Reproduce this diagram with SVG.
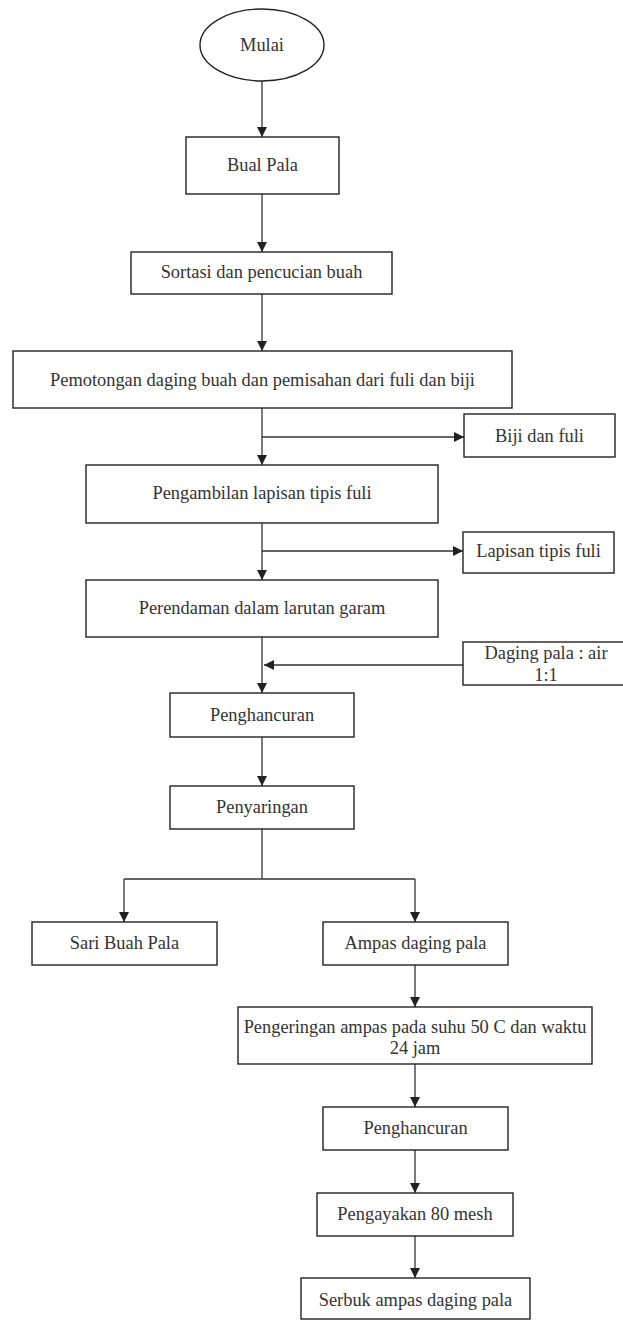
<svg xmlns="http://www.w3.org/2000/svg" width="623" height="1320" viewBox="0 0 623 1320">
<defs>
<marker id="arr" markerUnits="userSpaceOnUse" markerWidth="10" markerHeight="10" refX="10" refY="5" orient="auto">
<path d="M0,0 L10,5 L0,10 z" fill="#222"/>
</marker>
<style>
.box{fill:#fff;stroke:#222;stroke-width:1.4}
.t{font-family:'Liberation Serif','DejaVu Serif','Times New Roman',serif;font-size:18.4px;fill:#333;text-anchor:middle;dominant-baseline:central}
.c{fill:none;stroke:#333;stroke-width:1.3}
.a{fill:none;stroke:#333;stroke-width:1.3;marker-end:url(#arr)}
</style>
</defs>
<rect width="623" height="1320" fill="#fff"/>
<g id="connectors">
<line class="a" x1="262" y1="81" x2="262" y2="137"/>
<line class="a" x1="262" y1="194" x2="262" y2="252"/>
<line class="a" x1="262" y1="294" x2="262" y2="351"/>
<line class="a" x1="262" y1="408" x2="262" y2="465"/>
<line class="a" x1="262" y1="437" x2="464" y2="437"/>
<line class="a" x1="262" y1="523" x2="262" y2="580"/>
<line class="a" x1="262" y1="551" x2="463" y2="551"/>
<line class="a" x1="262" y1="637" x2="262" y2="693"/>
<line class="a" x1="463" y1="665" x2="264" y2="665"/>
<line class="a" x1="262" y1="737" x2="262" y2="786"/>
<line class="c" x1="262" y1="829" x2="262" y2="879"/>
<line class="c" x1="124" y1="879" x2="415" y2="879"/>
<line class="a" x1="124" y1="879" x2="124" y2="922"/>
<line class="a" x1="415" y1="879" x2="415" y2="922"/>
<line class="a" x1="415" y1="965" x2="415" y2="1007"/>
<line class="a" x1="415" y1="1064" x2="415" y2="1107"/>
<line class="a" x1="415" y1="1150" x2="415" y2="1193"/>
<line class="a" x1="415" y1="1236" x2="415" y2="1278"/>
</g>
<g id="mulai"><ellipse class="box" cx="262" cy="45" rx="62" ry="36"/><text class="t" x="262" y="45">Mulai</text></g>
<g id="bual-pala"><rect class="box" x="186" y="137" width="153" height="57"/><text class="t" x="262.5" y="165">Bual Pala</text></g>
<g id="sortasi"><rect class="box" x="131" y="252" width="261" height="42"/><text class="t" x="261.5" y="272">Sortasi dan pencucian buah</text></g>
<g id="pemotongan"><rect class="box" x="13" y="351" width="499" height="57"/><text class="t" x="262.5" y="380">Pemotongan daging buah dan pemisahan dari fuli dan biji</text></g>
<g id="biji-fuli"><rect class="box" x="464" y="414" width="151" height="43"/><text class="t" x="539.5" y="436">Biji dan fuli</text></g>
<g id="pengambilan"><rect class="box" x="86" y="465" width="352" height="58"/><text class="t" x="262" y="493">Pengambilan lapisan tipis fuli</text></g>
<g id="lapisan"><rect class="box" x="463" y="532" width="151" height="41"/><text class="t" x="538.5" y="551">Lapisan tipis fuli</text></g>
<g id="perendaman"><rect class="box" x="86" y="580" width="352" height="57"/><text class="t" x="262" y="608">Perendaman dalam larutan garam</text></g>
<g id="daging-air"><rect class="box" x="463" y="642" width="166" height="43"/><text class="t" x="546" y="653">Daging pala : air</text><text class="t" x="546" y="675">1:1</text></g>
<g id="penghancuran1"><rect class="box" x="170" y="693" width="184" height="44"/><text class="t" x="262" y="715">Penghancuran</text></g>
<g id="penyaringan"><rect class="box" x="170" y="786" width="184" height="43"/><text class="t" x="262" y="807">Penyaringan</text></g>
<g id="sari"><rect class="box" x="32" y="922" width="185" height="43"/><text class="t" x="124.5" y="943">Sari Buah Pala</text></g>
<g id="ampas"><rect class="box" x="323" y="922" width="185" height="43"/><text class="t" x="415.5" y="943">Ampas daging pala</text></g>
<g id="pengeringan"><rect class="box" x="238" y="1007" width="354" height="57"/><text class="t" x="415" y="1027">Pengeringan ampas pada suhu 50 C dan waktu</text><text class="t" x="415" y="1048">24 jam</text></g>
<g id="penghancuran2"><rect class="box" x="323" y="1107" width="185" height="43"/><text class="t" x="415.5" y="1128">Penghancuran</text></g>
<g id="pengayakan"><rect class="box" x="317" y="1193" width="196" height="43"/><text class="t" x="415" y="1214">Pengayakan 80 mesh</text></g>
<g id="serbuk"><rect class="box" x="301" y="1278" width="229" height="41"/><text class="t" x="415.5" y="1300">Serbuk ampas daging pala</text></g>
</svg>
